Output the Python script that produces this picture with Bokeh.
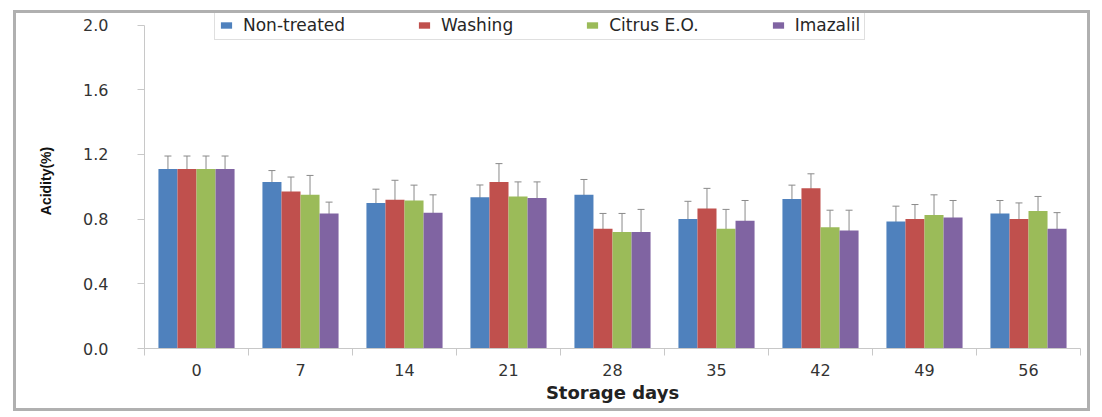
from bokeh.plotting import figure
from bokeh.models import ColumnDataSource, Whisker, FixedTicker, Legend, LegendItem, Range1d, TeeHead, PrintfTickFormatter
from bokeh.transform import dodge
from bokeh.embed import file_html
from bokeh.resources import INLINE

days = ["0", "7", "14", "21", "28", "35", "42", "49", "56"]
series = ["Non-treated", "Washing", "Citrus E.O.", "Imazalil"]
colors = ["#4F81BD", "#C0504D", "#9BBB59", "#8064A2"]

non_treated = [1.11, 1.03, 0.90, 0.935, 0.95, 0.80, 0.925, 0.785, 0.835]
washing = [1.11, 0.97, 0.92, 1.03, 0.74, 0.865, 0.99, 0.80, 0.80]
citrus = [1.11, 0.95, 0.915, 0.94, 0.72, 0.74, 0.75, 0.825, 0.85]
imazalil = [1.11, 0.835, 0.84, 0.93, 0.72, 0.79, 0.73, 0.81, 0.74]

err_non = [0.08, 0.07, 0.085, 0.076, 0.095, 0.11, 0.085, 0.095, 0.08]
err_wash = [0.08, 0.09, 0.12, 0.113, 0.095, 0.125, 0.09, 0.09, 0.10]
err_cit = [0.08, 0.12, 0.095, 0.09, 0.115, 0.12, 0.105, 0.125, 0.09]
err_ima = [0.08, 0.07, 0.11, 0.10, 0.14, 0.125, 0.125, 0.105, 0.10]

y_ticks = [0.0, 0.4, 0.8, 1.2, 1.6, 2.0]

values = [non_treated, washing, citrus, imazalil]
errors = [err_non, err_wash, err_cit, err_ima]
offsets = [-0.2745, -0.0915, 0.0915, 0.2745]
bar_w = 0.183

xs = list(range(len(days)))

p = figure(width=1077, height=401, output_backend="svg", toolbar_location=None,
           x_range=Range1d(-0.5, len(days) - 0.5), y_range=Range1d(0, 2.0711),
           min_border_left=128, min_border_right=13, min_border_top=0, min_border_bottom=66)
p.margin = (10, 0, 0, 13)
p.styles = {"border": "3px solid #b0b0b0", "box-sizing": "border-box"}
p.outline_line_color = None
p.xgrid.visible = False
p.ygrid.visible = False
p.background_fill_color = "white"
p.border_fill_color = "white"

renderers = []
for vals, errs, off, col in zip(values, errors, offsets, colors):
    src = ColumnDataSource(dict(
        x=xs, top=vals,
        upper=[v + e for v, e in zip(vals, errs)],
        lower=[v - e for v, e in zip(vals, errs)],
    ))
    r = p.vbar(x=dodge("x", off, range=p.x_range), top="top", width=bar_w, source=src,
               fill_color=col, line_color=None)
    renderers.append(r)
    w = Whisker(base=dodge("x", off, range=p.x_range), upper="upper", lower="lower", source=src,
                line_color="#8a8a8a", line_width=1,
                upper_head=TeeHead(size=7, line_color="#8a8a8a", line_width=1),
                lower_head=TeeHead(size=7, line_color="#6a6a6a", line_width=1))
    p.add_layout(w)

# x axis
xa = p.xaxis[0]
xa.ticker = FixedTicker(ticks=xs, minor_ticks=[i - 0.5 for i in range(len(days) + 1)])
xa.major_label_overrides = {i: d for i, d in enumerate(days)}
xa.major_tick_out = 0
xa.major_tick_in = 0
xa.minor_tick_out = 7
xa.minor_tick_in = 0
xa.minor_tick_line_color = "#c8c8c8"
xa.axis_line_color = "#c8c8c8"
xa.major_label_text_font = "DejaVu Sans"
xa.major_label_text_font_size = "16px"
xa.major_label_text_color = "#333333"
xa.major_label_standoff = 8
xa.axis_label = "Storage days"
xa.axis_label_text_font = "DejaVu Sans"
xa.axis_label_text_font_style = "bold"
xa.axis_label_text_font_size = "18px"
xa.axis_label_text_color = "#222222"
xa.axis_label_standoff = 3

# y axis
ya = p.yaxis[0]
ya.ticker = FixedTicker(ticks=y_ticks)
ya.formatter = PrintfTickFormatter(format="%.1f")
ya.bounds = (0, 2.0)
ya.major_tick_out = 7
ya.major_tick_in = 0
ya.minor_tick_out = 0
ya.minor_tick_in = 0
ya.major_tick_line_color = "#c8c8c8"
ya.axis_line_color = "#c8c8c8"
ya.major_label_text_font = "DejaVu Sans"
ya.major_label_text_font_size = "16px"
ya.major_label_text_color = "#333333"
ya.major_label_standoff = 29
ya.axis_label = "Acidity(%)"
ya.axis_label_text_font = "Liberation Sans"
ya.axis_label_text_font_style = "bold"
ya.axis_label_text_font_size = "14px"
ya.axis_label_text_color = "#111111"
ya.axis_label_standoff = 26

items = [LegendItem(label=s, renderers=[r]) for s, r in zip(series, renderers)]
legend = Legend(items=items, orientation="horizontal", location=(70, 308),
                glyph_width=14, glyph_height=8, label_standoff=10, spacing=72,
                padding=4, margin=0, label_height=14,
                label_text_font="DejaVu Sans", label_text_font_size="17px",
                label_text_color="#262626",
                border_line_color="#c0c0c0", border_line_width=1,
                background_fill_color="white", background_fill_alpha=1.0)
p.add_layout(legend)

open("out.html", "w").write(file_html(p, INLINE))
